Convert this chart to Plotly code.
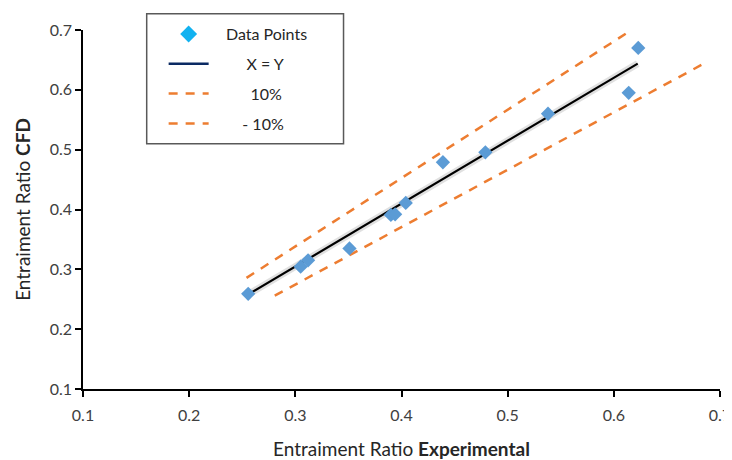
import plotly.graph_objects as go

exp_x = [0.2556, 0.305, 0.312, 0.351, 0.390, 0.394, 0.404, 0.439, 0.479, 0.538, 0.614, 0.623]
cfd_y = [0.259, 0.3045, 0.315, 0.335, 0.391, 0.392, 0.411, 0.479, 0.4955, 0.560, 0.595, 0.670]

line_x = [0.2537, 0.6225]
line_y = [0.256, 0.6438]
upper_x = [0.254, 0.614]
upper_y = [0.2857, 0.697]
lower_x = [0.2806, 0.686]
lower_y = [0.256, 0.645]

tick_vals = [0.1, 0.2, 0.3, 0.4, 0.5, 0.6, 0.7]
tick_text = ["0.1", "0.2", "0.3", "0.4", "0.5", "0.6", "0.7"]

FONT = "Lato"
orange = "#ED7D31"
nb = "\u00a0"

fig = go.Figure()

fig.add_trace(go.Scatter(x=line_x, y=line_y, mode="lines",
                         line=dict(color="rgba(0,0,0,0.12)", width=7),
                         showlegend=False, hoverinfo="skip"))
fig.add_trace(go.Scatter(x=upper_x, y=upper_y, mode="lines",
                         line=dict(color=orange, width=2.5, dash="9px,8px"),
                         showlegend=False))
fig.add_trace(go.Scatter(x=lower_x, y=lower_y, mode="lines",
                         line=dict(color=orange, width=2.5, dash="9px,8px"),
                         showlegend=False))
fig.add_trace(go.Scatter(x=line_x, y=line_y, mode="lines",
                         line=dict(color="black", width=2.2),
                         showlegend=False))
fig.add_trace(go.Scatter(x=exp_x, y=cfd_y, mode="markers",
                         marker=dict(symbol="diamond", size=11, color="#5B9BD5"),
                         showlegend=False))

# legend entries
fig.add_trace(go.Scatter(x=[None], y=[None], mode="markers", name=nb * 3 + "Data Points",
                         marker=dict(symbol="diamond", size=13, color="#12B2F0"),
                         legendgroup="a"))
fig.add_trace(go.Scatter(x=[None], y=[None], mode="lines", name=nb * 8 + "X = Y",
                         line=dict(color="#0B2A63", width=2.5), legendgroup="b"))
fig.add_trace(go.Scatter(x=[None], y=[None], mode="lines", name=nb * 9 + "10%",
                         line=dict(color=orange, width=2.5, dash="9px,8px"), legendgroup="c"))
fig.add_trace(go.Scatter(x=[None], y=[None], mode="lines", name=nb * 7 + "- 10%",
                         line=dict(color=orange, width=2.5, dash="9px,8px"), legendgroup="d"))

axis_common = dict(
    range=[0.1, 0.7], tickvals=tick_vals, ticktext=tick_text,
    showgrid=False, zeroline=False, showline=True, linecolor="black", linewidth=1.5,
    ticks="outside", ticklen=6, tickcolor="black", tickwidth=1.5,
    tickfont=dict(family=FONT, size=16, color="#404040"),
    ticklabeloverflow="allow",
)

fig.update_layout(
    width=724, height=452,
    margin=dict(l=75, r=1, t=22, b=66),
    paper_bgcolor="white", plot_bgcolor="white",
    font=dict(family=FONT, color="#262626"),
    xaxis=dict(**axis_common, ticklabelstandoff=5,
               title=dict(text="Entraiment Ratio <b>Experimental</b>",
                          font=dict(family=FONT, size=19, color="#262626"), standoff=22)),
    yaxis=dict(**axis_common,
               title=dict(text="Entraiment Ratio <b>CFD</b>",
                          font=dict(family=FONT, size=19, color="#262626"), standoff=14)),
    legend=dict(x=0.1266, y=1.036, xanchor="left", yanchor="top",
                bgcolor="rgba(0,0,0,0)", borderwidth=0,
                font=dict(family=FONT, size=16, color="#262626"),
                tracegroupgap=6, itemwidth=40),
    shapes=[dict(type="rect", xref="paper", yref="paper",
                 x0=0.1, x1=0.409, y0=0.683, y1=1.045,
                 line=dict(color="#595959", width=1.5), fillcolor="white", layer="below")],
    showlegend=True,
)

fig.write_html("out.html")
